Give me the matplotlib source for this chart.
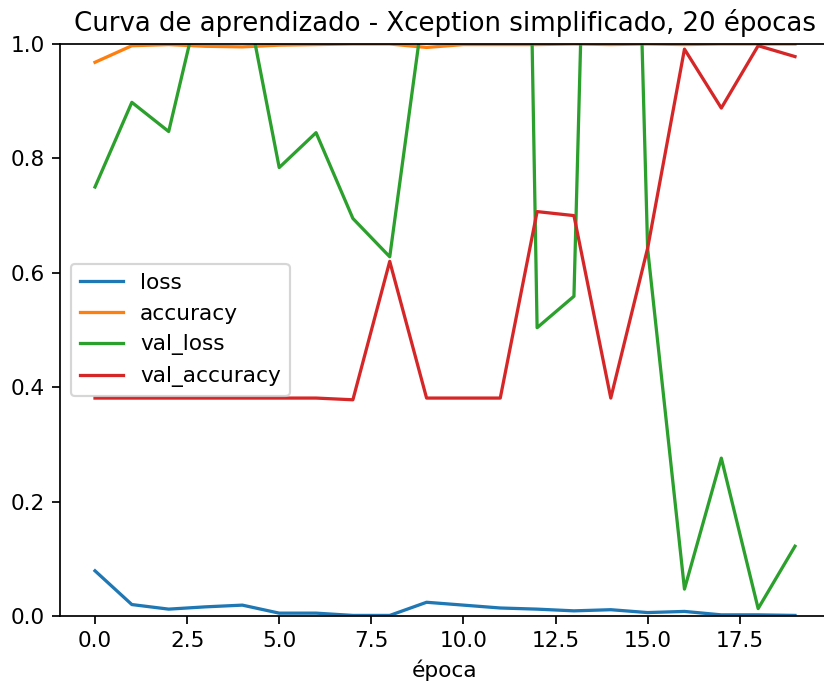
import matplotlib
matplotlib.use("Agg")
import matplotlib.pyplot as plt

epochs = list(range(20))

loss = [0.079, 0.020, 0.012, 0.016, 0.019, 0.005, 0.005, 0.001, 0.001, 0.024,
        0.019, 0.014, 0.012, 0.009, 0.011, 0.006, 0.008, 0.002, 0.002, 0.001]
accuracy = [0.968, 0.997, 0.999, 0.996, 0.995, 0.998, 0.999, 1.0, 1.0, 0.994,
            0.999, 0.999, 0.999, 1.0, 0.999, 1.0, 0.999, 1.0, 1.0, 1.0]
val_loss = [0.750, 0.898, 0.847, 1.119, 1.115, 0.784, 0.845, 0.695, 0.628, 1.102,
            2.5, 4.18, 0.504, 0.559, 3.0, 0.642, 0.047, 0.276, 0.013, 0.122]
val_accuracy = [0.381, 0.381, 0.381, 0.381, 0.381, 0.381, 0.381, 0.378, 0.620, 0.381,
                0.381, 0.381, 0.707, 0.700, 0.381, 0.643, 0.991, 0.888, 0.997, 0.978]

series = {"loss": loss, "accuracy": accuracy,
          "val_loss": val_loss, "val_accuracy": val_accuracy}

dpi = 156
fig = plt.figure(figsize=(824 / dpi, 686 / dpi), dpi=dpi)
# the reference is cropped on the right, so the right spine falls just off the canvas
ax = fig.add_axes([60 / 824, 70 / 686, 770 / 824, 572 / 686])

for name, vals in series.items():
    ax.plot(epochs, vals, label=name)

ax.set_ylim(0, 1)
ax.set_title("Curva de aprendizado - Xception simplificado, 20 épocas")
ax.set_xlabel("época")
ax.legend(loc="center left")

fig.savefig("out.png", dpi=dpi)
